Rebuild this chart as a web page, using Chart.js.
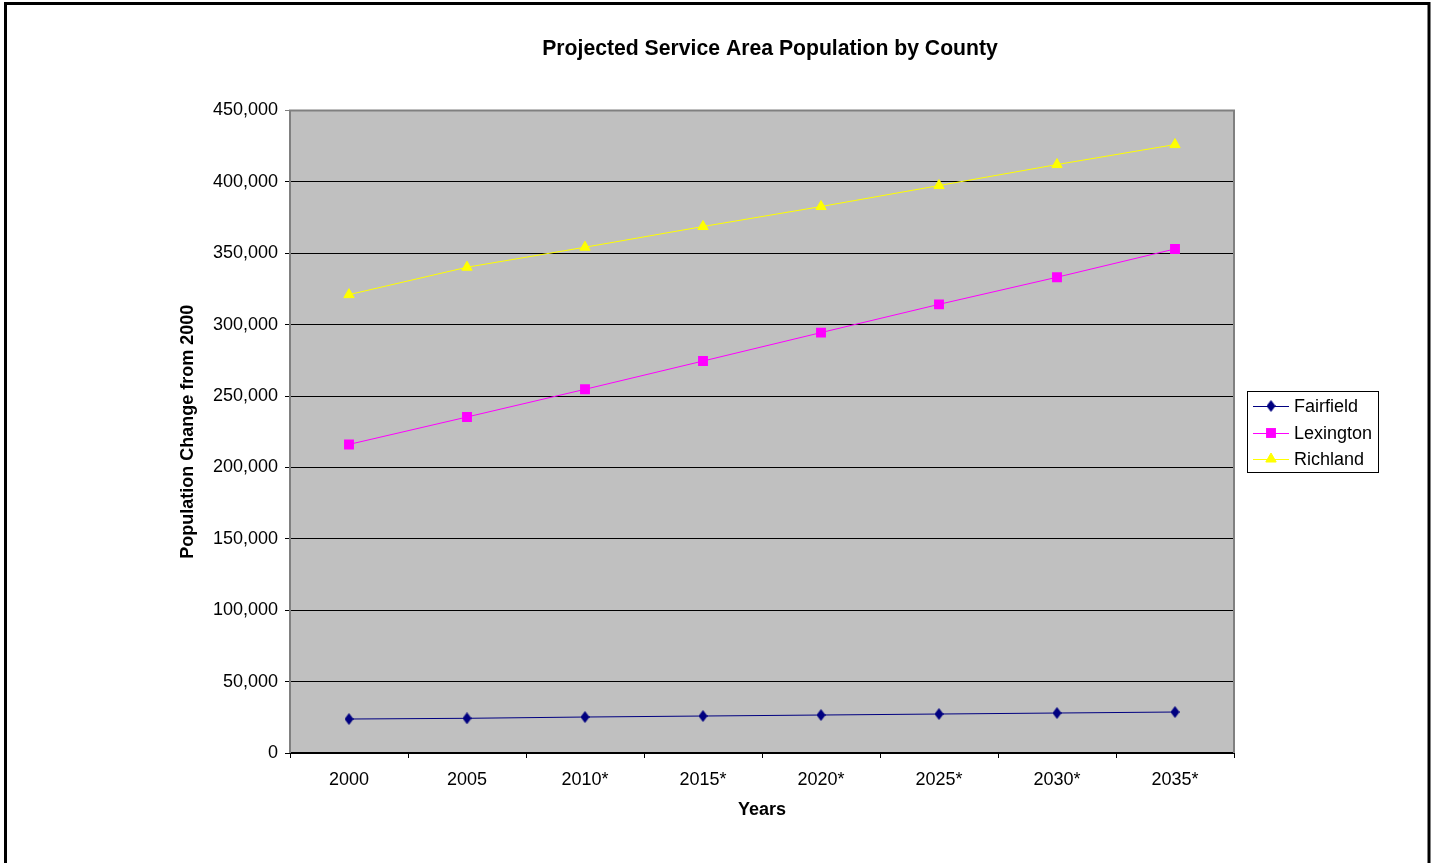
<!DOCTYPE html>
<html>
<head>
<meta charset="utf-8">
<title>Projected Service Area Population by County</title>
<script src="https://cdn.jsdelivr.net/npm/chart.js@4.4.1/dist/chart.umd.min.js"></script>
<style>
  body { margin: 0; background: #fff; }
  #wrap { width: 1435px; height: 863px; }
</style>
</head>
<body>
<div id="wrap"><canvas id="myChart" width="1435" height="863"></canvas></div>
<script>
// data
const years = ['2000', '2005', '2010*', '2015*', '2020*', '2025*', '2030*', '2035*'];
const fairfield = [23800, 24300, 25200, 25900, 26600, 27300, 28000, 28700];
const lexington = [216100, 235300, 254700, 274500, 294400, 314200, 333200, 353000];
const richland = [321000, 340200, 354200, 368700, 382700, 397400, 412100, 426100];

const FONT = "'Liberation Sans', Arial, sans-serif";

// tall narrow diamond like the Excel marker
function diamond(color) {
    const c = document.createElement('canvas');
    c.width = 9;
    c.height = 12;
    const g = c.getContext('2d');
    g.fillStyle = color;
    g.beginPath();
    g.moveTo(4.5, 0);
    g.lineTo(9, 6);
    g.lineTo(4.5, 12);
    g.lineTo(0, 6);
    g.closePath();
    g.fill();
    return c;
}

const plotBox = {
    id: 'plotBox',
    beforeDraw(chart) {
        const { ctx, chartArea: a } = chart;
        ctx.save();
        // outer frame
        ctx.strokeStyle = '#000';
        ctx.lineWidth = 3;
        ctx.strokeRect(5.5, 3.5, 1423.5, 900);
        // plot background
        ctx.fillStyle = '#C0C0C0';
        ctx.fillRect(a.left, a.top, a.right - a.left, a.bottom - a.top);
        ctx.restore();
    },
    beforeDatasetsDraw(chart) {
        const { ctx, chartArea: a } = chart;
        ctx.save();
        ctx.strokeStyle = '#808080';
        ctx.lineWidth = 2;
        ctx.beginPath();
        ctx.moveTo(a.left, a.bottom);
        ctx.lineTo(a.left, a.top);
        ctx.lineTo(a.right, a.top);
        ctx.lineTo(a.right, a.bottom);
        ctx.stroke();
        ctx.restore();
    }
};

// legend with line + marker, drawn by hand
const boxLegend = {
    id: 'boxLegend',
    afterDraw(chart) {
        const ctx = chart.ctx;
        const rows = [406, 433, 459];
        ctx.save();
        ctx.fillStyle = '#fff';
        ctx.fillRect(1247, 391, 131, 81);
        ctx.strokeStyle = '#000';
        ctx.lineWidth = 1;
        ctx.strokeRect(1247.5, 391.5, 131, 81);
        chart.data.datasets.forEach((ds, i) => {
            const y = rows[i];
            ctx.strokeStyle = ds.borderColor;
            ctx.lineWidth = 1;
            ctx.beginPath();
            ctx.moveTo(1253, y + 0.5);
            ctx.lineTo(1289, y + 0.5);
            ctx.stroke();
            ctx.fillStyle = ds.pointBackgroundColor;
            ctx.strokeStyle = ds.pointBorderColor;
            Chart.helpers.drawPoint(ctx, {
                pointStyle: ds.pointStyle,
                radius: ds.pointRadius,
                borderWidth: ds.pointBorderWidth || 0,
                rotation: 0
            }, 1271, y);
            ctx.fillStyle = '#000';
            ctx.font = '18px ' + FONT;
            ctx.textBaseline = 'middle';
            ctx.textAlign = 'left';
            ctx.fillText(ds.label, 1294, y + 1);
        });
        ctx.restore();
    }
};

new Chart(document.getElementById('myChart'), {
    type: 'line',
    data: {
        labels: years,
        datasets: [{
            label: 'Fairfield',
            data: fairfield,
            borderColor: '#000080',
            borderWidth: 1,
            pointStyle: diamond('#000080'),
            pointRadius: 6,
            pointBackgroundColor: '#000080',
            pointBorderColor: '#000080',
            tension: 0
        }, {
            label: 'Lexington',
            data: lexington,
            borderColor: '#FF00FF',
            borderWidth: 1,
            pointStyle: 'rect',
            pointRadius: 7,
            pointBorderWidth: 0,
            pointBackgroundColor: '#FF00FF',
            pointBorderColor: '#FF00FF',
            tension: 0
        }, {
            label: 'Richland',
            data: richland,
            borderColor: '#FFFF00',
            borderWidth: 1,
            pointStyle: 'triangle',
            pointRadius: 6,
            pointBorderWidth: 1,
            pointBackgroundColor: '#FFFF00',
            pointBorderColor: '#FFFF00',
            tension: 0
        }]
    },
    options: {
        responsive: false,
        animation: false,
        layout: {
            padding: { left: 177, right: 72, top: 0, bottom: 42 }
        },
        plugins: {
            legend: { display: false },
            tooltip: { enabled: false },
            title: {
                display: true,
                text: 'Projected Service Area Population by County',
                color: '#000',
                font: { family: FONT, size: 21.2, weight: 'bold' },
                padding: { top: 36, bottom: 49 }
            }
        },
        scales: {
            x: {
                offset: true,
                grid: {
                    offset: true,
                    drawOnChartArea: false,
                    drawTicks: true,
                    tickLength: 5,
                    color: '#000'
                },
                border: { color: '#000', width: 2 },
                ticks: {
                    color: '#000',
                    font: { family: FONT, size: 18 },
                    padding: 11,
                    maxRotation: 0
                },
                title: {
                    display: true,
                    text: 'Years',
                    color: '#000',
                    font: { family: FONT, size: 18, weight: 'bold' },
                    padding: 0
                },
                afterFit(s) { s.height = 68; }
            },
            y: {
                min: 0,
                max: 450000,
                grid: {
                    color: c => c.tick && c.tick.value === 450000 ? '#808080' : '#000',
                    tickLength: 5
                },
                border: { display: false },
                ticks: {
                    stepSize: 50000,
                    color: '#000',
                    font: { family: FONT, size: 18 },
                    padding: 7,
                    callback: v => v.toLocaleString('en-US')
                },
                title: {
                    display: true,
                    text: 'Population Change from 2000',
                    color: '#000',
                    font: { family: FONT, size: 18, weight: 'bold' },
                    padding: 0
                },
                afterFit(s) { s.width = 113; }
            },
            // empty axis, only keeps room for the legend on the right
            y2: {
                position: 'right',
                display: true,
                min: 0,
                max: 450000,
                grid: { display: false },
                border: { display: false },
                ticks: { display: false },
                afterFit(s) { s.width = 129; }
            }
        }
    },
    plugins: [plotBox, boxLegend]
});
</script>
</body>
</html>
